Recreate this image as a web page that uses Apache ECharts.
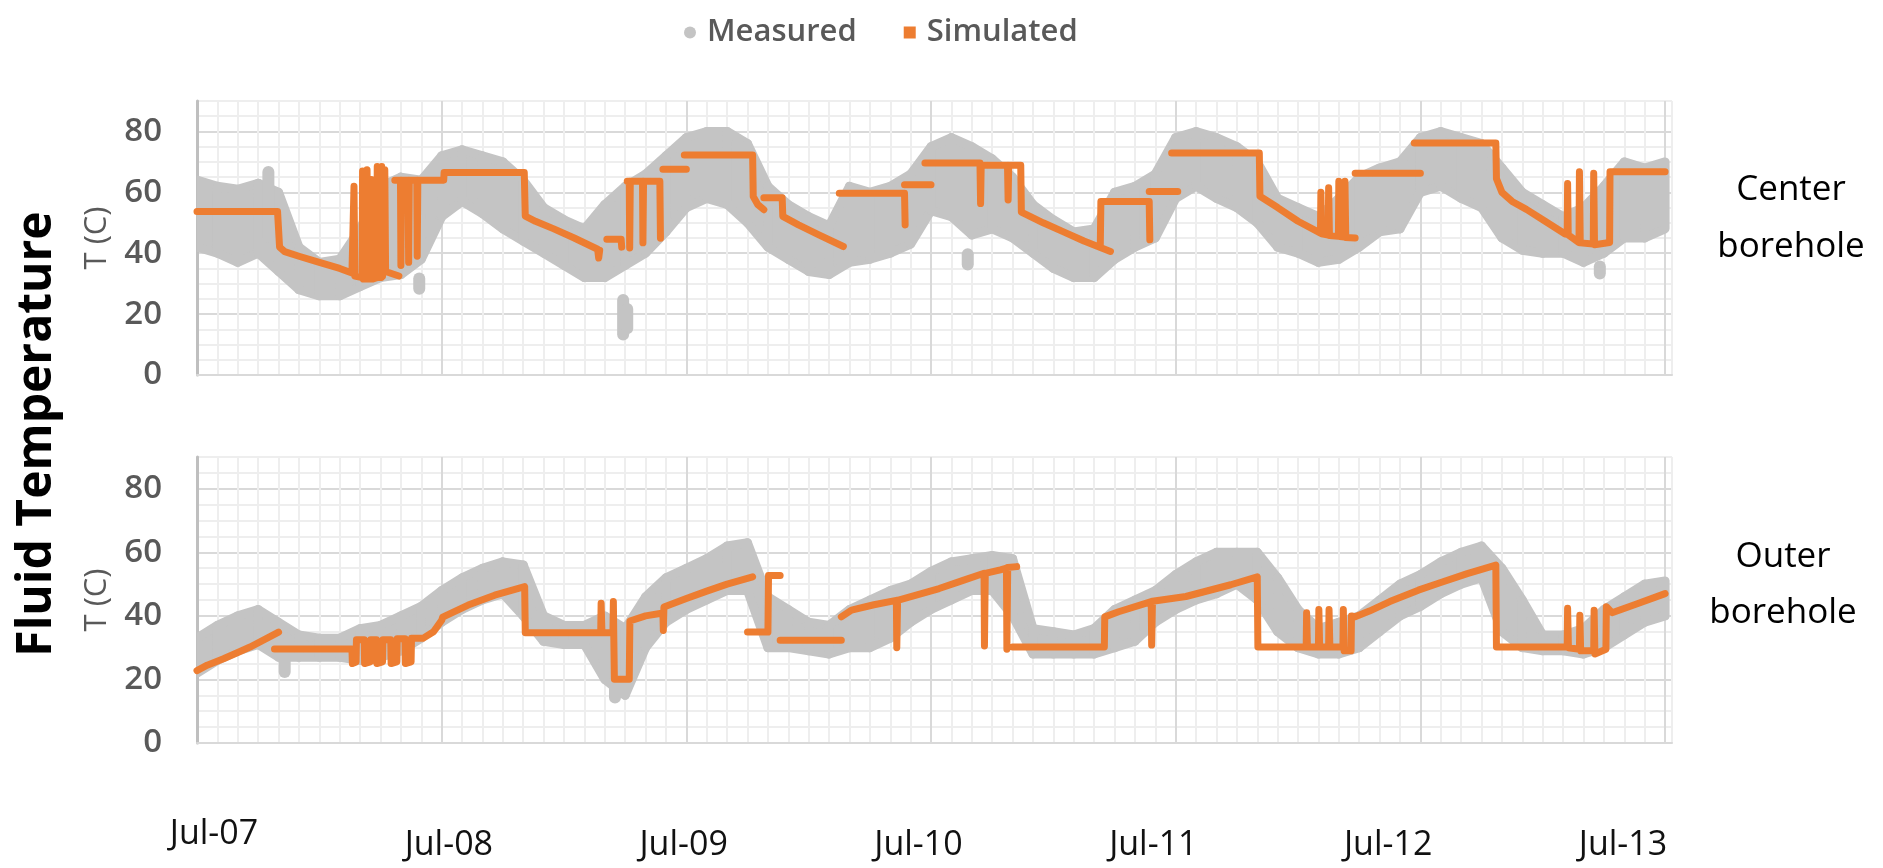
<!DOCTYPE html>
<html><head><meta charset="utf-8">
<script src="https://cdn.jsdelivr.net/npm/echarts@6/dist/echarts.min.js"></script>
<style>html,body{margin:0;padding:0;background:#fff}#c{width:1883px;height:868px}</style>
</head><body><div id="c"></div>
<script>
// ---- tick labels ----
const xTickLabels = ['Jul-07','Jul-08','Jul-09','Jul-10','Jul-11','Jul-12','Jul-13'];
const yTickLabels = [0, 20, 40, 60, 80];

// ---- measured (grey cloud), months since Jul-07: low / high envelope ----
const measMonths = [0,1,2,3,4,5,6,7,8,9,10,11,12,13,14,15,16,17,18,19,20,21,22,23,24,25,26,27,28,29,30,31,32,33,34,35,36,37,38,39,40,41,42,43,44,45,46,47,48,49,50,51,52,53,54,55,56,57,58,59,60,61,62,63,64,65,66,67,68,69,70,71,72];
const measCenterLo = [42,40,37,40,34,28,26,26,29,32,33,38,52,57,53,48,44,40,36,32,32,36,40,47,55,58,56,50,42,38,34,33,37,38,40,43,54,52,46,48,45,40,35,32,32,38,42,45,58,62,58,55,50,42,40,37,38,42,47,48,60,62,58,55,45,41,40,40,37,40,45,45,48];
const measCenterHi = [64,62,61,63,60,42,37,38,48,62,65,64,72,74,72,70,64,55,51,48,56,62,66,72,78,80,80,76,62,56,52,49,62,60,62,66,75,78,75,71,65,56,51,47,48,60,62,66,78,80,78,75,70,58,55,52,58,65,68,70,78,80,78,76,68,60,56,52,55,62,70,68,70];
const measCenterExtra = [[10.9,28,32],[20.9,13,25],[21.1,15,22],[37.8,36,40],[68.8,33,36],[3.5,45,67]];
const measOuterLo = [22,26,29,31,27,27,27,27,26,27,29,33,38,42,45,47,40,32,31,31,20,15,30,38,42,45,48,48,30,30,29,28,30,30,33,38,42,45,48,48,40,28,28,28,28,30,32,38,42,45,47,50,45,35,30,28,28,30,35,40,43,47,50,52,35,30,29,29,28,30,34,38,40];
const measOuterHi = [33,37,40,42,38,34,33,33,36,37,40,43,48,52,55,57,56,40,37,37,40,36,46,52,55,58,62,63,46,42,38,37,42,45,48,50,54,57,58,59,58,36,35,34,36,42,45,48,53,57,60,60,60,52,42,36,38,40,45,50,53,57,60,62,55,45,34,34,36,42,46,50,51];
const measOuterExtra = [[4.3,22,26],[20.5,14,20]];

// ---- simulated (orange), [month, T]; null = break ----
const simCenter = [
 [0,53.7],[3.95,53.7],[4.05,42],[4.3,40.5],[5,39],[6,37],[7,35],[7.6,33.5],[7.68,33],[7.7,62],[7.74,32.5],[8.1,32],[8.12,67],[8.16,31.5],[8.32,31.5],[8.34,67.4],[8.38,31.5],[8.53,31.5],[8.55,64.2],[8.6,31.5],[8.82,32],[8.84,68.5],[8.88,32],[9.04,32],[9.06,68.5],[9.1,32.5],[9.19,33],[9.21,67.4],[9.25,34],[9.9,32.5], null,
 [9.7,64],[9.98,64],[10.0,36],[10.03,64],[10.35,64],[10.38,37],[10.41,64],[10.78,64],[10.8,39],[10.83,64],[12.1,64],[12.12,66.5],[16.05,66.5],[16.1,52.2],[16.6,50.5],[17.5,48],[18.5,45],[19.65,41.3],[19.7,38.4],[19.75,41], null,
 [20.1,44.6],[20.8,44.6],[20.83,42], null,
 [21.1,63.6],[21.2,63.6],[21.22,41.7],[21.25,63.6],[21.85,63.6],[21.87,43.4],[21.9,63.6],[22.7,63.6],[22.73,44.9], null,
 [22.85,67.6],[24.0,67.6], null,
 [23.9,72.3],[27.25,72.3],[27.28,58.6],[27.5,56],[27.8,54.3], null,
 [27.8,58.2],[28.7,58.2],[28.73,52.1],[29.5,49.3],[30.5,46],[31.7,42.2], null,
 [31.5,59.7],[34.7,59.7],[34.73,49.3], null,
 [34.7,62.5],[36.0,62.5], null,
 [35.7,69.6],[38.4,69.6],[38.43,56.3],[38.46,68.9],[39.75,68.9],[39.78,57.5],[39.81,68.9],[40.4,68.9],[40.43,53.5],[41.5,50],[42.5,47],[43.5,44],[44.8,40.6], null,
 [44.3,42],[44.33,57],[46.7,57],[46.73,44.4], null,
 [46.7,60.3],[48.1,60.3], null,
 [47.8,72.9],[52.1,72.9],[52.13,58.7],[53,55],[54,50.5],[55.1,46.6],[55.12,60],[55.16,46.4],[55.48,46],[55.5,61.5],[55.54,45.8],[55.98,45.6],[56.0,63.6],[56.04,45.5],[56.28,45.3],[56.3,63.6],[56.34,45.2],[56.8,45], null,
 [56.8,66.3],[60.0,66.3], null,
 [59.7,76.2],[63.7,76.2],[63.73,64.5],[64.0,60],[64.5,57],[65.2,54.4],[66.1,50.6],[67.1,46.3],[67.2,46.2],[67.22,62.9],[67.25,46],[67.78,43.5],[67.8,66.8],[67.84,43.4],[68.48,43],[68.5,66.3],[68.54,42.8],[69.28,43.5],[69.3,66.8],[72.0,66.8]
];
const simOuter = [
 [0,22.8],[0.5,24.5],[1.3,26.5],[2.0,28.5],[2.6,30.2],[3.3,32.5],[4.0,34.9], null,
 [3.8,29.6],[7.6,29.6],[7.62,25],[7.8,25.5],[7.82,32.5],[8.2,32.5],[8.22,25],[8.5,25.5],[8.52,32.5],[8.8,32.5],[8.82,25],[9.1,25.5],[9.12,32.5],[9.5,32.5],[9.52,25],[9.8,25.5],[9.82,32.8],[10.2,32.8],[10.22,25],[10.5,25.5],[10.52,33],[11.1,33],[11.6,35],[12.0,38.6],[12.05,39.6],[13.3,43.4],[14.6,46.5],[16.07,49.2],[16.1,34.7],[19.8,34.7],[19.82,44],[19.86,34.7],[20.4,34.7],[20.42,44.5],[20.44,34],[20.47,20.1],[21.2,20.1],[21.23,38.4],[22.0,40],[22.85,40.9],[22.87,35.4],[22.9,42.8],[24,45.5],[25,47.8],[26,50],[27.25,52.3], null,
 [27.0,34.9],[28.0,34.9],[28.03,52.7],[28.6,52.7], null,
 [28.6,32.3],[31.6,32.3], null,
 [31.6,39.7],[32.1,41.8],[33.2,43.5],[34.3,44.9],[34.32,30],[34.36,44.9],[35.4,46.8],[36.4,48.6],[37.5,51],[38.6,53.4],[38.62,30.5],[38.66,53.4],[39.4,54.5],[39.7,55],[39.72,29.5],[39.76,55.2],[40.2,55.5], null,
 [40.0,30.2],[44.5,30.2],[44.52,39.7],[45.2,41.3],[46.8,44.5],[46.82,30.8],[46.86,44.6],[48.5,46.1],[50.7,49.8],[52.0,52.3],[52.03,30.2],[54.4,30.2],[54.42,41],[54.46,30.2],[55.0,30.2],[55.02,42],[55.06,30.2],[55.5,30.2],[55.52,42],[55.56,30.2],[56.2,30.2],[56.22,42],[56.26,29],[56.6,29],[56.62,40],[56.8,39.7],[57.5,41.5],[58.5,44.5],[59.9,48.1],[61,50.5],[62.3,53.3],[63.7,56.0],[63.73,30.2],[67.2,30.2],[67.22,42.4],[67.26,30],[67.8,29.5],[67.82,40.2],[67.86,29],[68.5,29],[68.52,41.8],[68.56,28],[69.1,29.5],[69.12,42.9],[69.4,41],[70.5,43.5],[72.0,47]
];

// ---- styling ----
const FONT = "'Open Sans', 'Liberation Sans', sans-serif";
const MEAS = '#C4C4C4';
const ORANGE = '#ED7D31';
const MAJOR = '#D9D9D9';
const MINOR = '#EEEEEE';
const xLineColors = [MAJOR].concat(Array(11).fill(MINOR));

// band segments: each item joins one envelope sample to the next
function segItems(lo, hi) {
  const out = [];
  for (let i = 0; i < measMonths.length - 1; i++) {
    out.push([measMonths[i], lo[i], hi[i], measMonths[i + 1], lo[i + 1], hi[i + 1]]);
  }
  return out;
}
function lineItems(arr) { return arr.map(p => p === null ? ['-', '-'] : p); }
function renderSeg(params, api) {
  const x0 = api.value(0), l0 = api.value(1), h0 = api.value(2);
  const x1 = api.value(3), l1 = api.value(4), h1 = api.value(5);
  const pts = [api.coord([x0, h0]), api.coord([x1, h1]), api.coord([x1, l1]), api.coord([x0, l0])];
  return { type: 'polygon', shape: { points: pts }, style: { fill: MEAS, stroke: MEAS, lineWidth: 9, lineJoin: 'round' } };
}
function renderBlob(params, api) {
  const x = api.value(0), lo = api.value(1), hi = api.value(2);
  const a = api.coord([x, hi]), b = api.coord([x, lo]);
  const w = 12, e = 5;
  return { type: 'rect', shape: { x: a[0] - w / 2, y: a[1] - e, width: w, height: b[1] - a[1] + 2 * e, r: 6 }, style: { fill: MEAS } };
}
function panelX(gi) {
  return { gridIndex: gi, type: 'value', min: 0, max: 72.34, interval: 1,
    axisLine: { show: true, onZero: false, lineStyle: { color: MAJOR, width: 2 } },
    axisTick: { show: false }, axisLabel: { show: false },
    splitLine: { show: true, lineStyle: { color: xLineColors, width: 2 } } };
}
function panelY(gi) {
  return { gridIndex: gi, type: 'value', min: 0, max: 90, interval: 10,
    axisLine: { show: true, lineStyle: { color: '#BFBFBF', width: 3 } },
    axisTick: { show: false },
    axisLabel: { formatter: v => (yTickLabels.indexOf(v) >= 0 ? String(v) : ''), color: '#595959', fontSize: 33, fontWeight: 600, margin: 35, fontFamily: FONT },
    splitLine: { show: true, lineStyle: { color: [MAJOR, MINOR], width: 2 } },
    minorTick: { show: false, splitNumber: 2 },
    minorSplitLine: { show: true, lineStyle: { color: MINOR, width: 2 } },
    name: 'T (C)', nameLocation: 'middle', nameRotate: 90, nameGap: 84,
    nameTextStyle: { color: '#595959', fontSize: 31, fontFamily: FONT } };
}

const chart = echarts.init(document.getElementById('c'), null, { renderer: 'canvas', width: 1883, height: 868 });
chart.setOption({
  animation: false,
  backgroundColor: '#ffffff',
  textStyle: { fontFamily: FONT },
  grid: [
    { left: 197, top: 101, width: 1475, height: 274, outerBoundsMode: 'none', containLabel: false },
    { left: 197, top: 457, width: 1475, height: 286, outerBoundsMode: 'none', containLabel: false },
    { left: 214, top: 812, width: 1409, height: 1, outerBoundsMode: 'none', containLabel: false }
  ],
  legend: {
    top: 12, left: 679, itemGap: 47, itemWidth: 12, itemHeight: 12,
    textStyle: { color: '#595959', fontSize: 31, fontWeight: 600, fontFamily: FONT, padding: [0, 0, 0, 6] },
    data: [{ name: 'Measured', icon: 'circle', itemStyle: { color: MEAS } }, { name: 'Simulated', icon: 'rect', itemStyle: { color: ORANGE } }]
  },
  xAxis: [panelX(0), panelX(1), {
    gridIndex: 2, type: 'category', data: xTickLabels, boundaryGap: false,
    axisLine: { show: false }, axisTick: { show: false }, splitLine: { show: false },
    axisLabel: { interval: 0, color: '#111111', fontSize: 34, margin: 4, fontFamily: FONT,
      formatter: (v, i) => (i === 0 ? '{a|' + v + '}' : '{b|' + v + '}'),
      rich: {
        a: { fontSize: 34, color: '#111111', fontFamily: FONT, padding: [0, 0, 0, 0] },
        b: { fontSize: 34, color: '#111111', fontFamily: FONT, padding: [11, 0, 0, 0] }
      } }
  }],
  yAxis: [panelY(0), panelY(1), { gridIndex: 2, type: 'value', show: false }],
  graphic: [
    { type: 'text', x: 37, y: 434, rotation: Math.PI / 2,
      style: { text: 'Fluid Temperature', fill: '#000', font: "bold 48px 'Open Sans', sans-serif", align: 'center', verticalAlign: 'middle', textAlign: 'center', textVerticalAlign: 'middle' } },
    { type: 'text', x: 1791, y: 219,
      style: { text: 'Center\nborehole', fill: '#000', font: "35px 'Open Sans', sans-serif", lineHeight: 57, align: 'center', verticalAlign: 'middle', textAlign: 'center', textVerticalAlign: 'middle' } },
    { type: 'text', x: 1783, y: 585,
      style: { text: 'Outer\nborehole', fill: '#000', font: "35px 'Open Sans', sans-serif", lineHeight: 56, align: 'center', verticalAlign: 'middle', textAlign: 'center', textVerticalAlign: 'middle' } }
  ],
  series: [
    { name: 'Measured', type: 'custom', xAxisIndex: 0, yAxisIndex: 0, renderItem: renderSeg, encode: { x: [0, 3], y: [1, 2, 4, 5] }, clip: true, itemStyle: { color: MEAS }, data: segItems(measCenterLo, measCenterHi) },
    { name: 'Measured', type: 'custom', xAxisIndex: 0, yAxisIndex: 0, renderItem: renderBlob, encode: { x: 0, y: [1, 2] }, clip: true, itemStyle: { color: MEAS }, data: measCenterExtra },
    { name: 'Measured', type: 'custom', xAxisIndex: 1, yAxisIndex: 1, renderItem: renderSeg, encode: { x: [0, 3], y: [1, 2, 4, 5] }, clip: true, itemStyle: { color: MEAS }, data: segItems(measOuterLo, measOuterHi) },
    { name: 'Measured', type: 'custom', xAxisIndex: 1, yAxisIndex: 1, renderItem: renderBlob, encode: { x: 0, y: [1, 2] }, clip: true, itemStyle: { color: MEAS }, data: measOuterExtra },
    { name: 'Simulated', type: 'line', xAxisIndex: 0, yAxisIndex: 0, showSymbol: false, connectNulls: false, clip: true, itemStyle: { color: ORANGE }, lineStyle: { color: ORANGE, width: 7, cap: 'round', join: 'round' }, data: lineItems(simCenter) },
    { name: 'Simulated', type: 'line', xAxisIndex: 1, yAxisIndex: 1, showSymbol: false, connectNulls: false, clip: true, itemStyle: { color: ORANGE }, lineStyle: { color: ORANGE, width: 7, cap: 'round', join: 'round' }, data: lineItems(simOuter) }
  ]
});
</script>
</body></html>
